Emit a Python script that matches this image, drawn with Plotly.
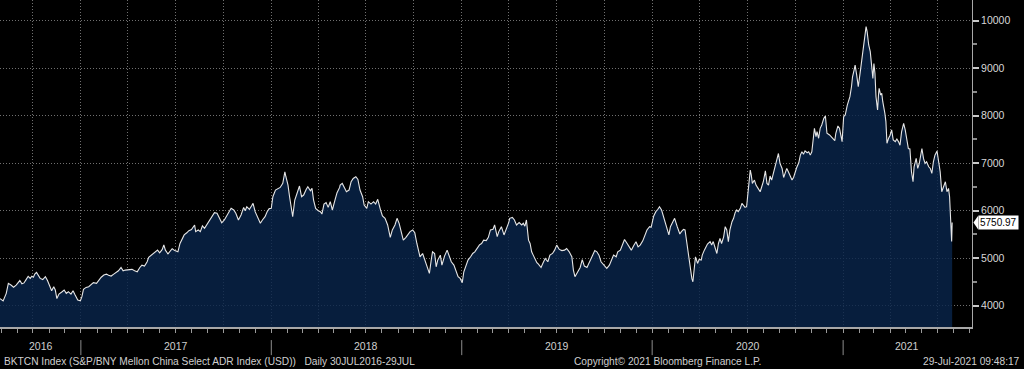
import pandas as pd
import plotly.graph_objects as go

# ---------------- data (day offsets from 30 Jul 2016, index level) ----------------
start_date = "2016-07-30"

days_p1 = [0, 6, 12, 16, 21, 26, 31, 35, 38, 42, 46, 50, 54, 58, 61, 64, 67, 70, 74, 77,
           82, 87, 91, 96, 99, 103, 106, 109, 113, 119, 123, 127, 131, 136, 140, 144, 149, 154, 157, 160,
           165, 170, 174, 179, 185, 189, 194, 199, 204, 208, 213, 218, 223, 227, 232, 236, 240, 247, 253, 258,
           263, 268, 272, 277, 282, 285, 290, 293, 298, 302, 306, 311, 314, 317, 322, 327]
vals_p1 = [4150, 4100, 4260, 4470, 4435, 4390, 4435, 4480, 4530, 4460, 4480, 4550, 4620, 4575, 4620, 4600, 4670, 4700, 4620, 4575,
           4550, 4610, 4530, 4415, 4315, 4400, 4330, 4150, 4245, 4295, 4330, 4260, 4295, 4245, 4315, 4225, 4120, 4105, 4190, 4345,
           4385, 4400, 4435, 4485, 4470, 4540, 4600, 4645, 4665, 4640, 4625, 4665, 4695, 4735, 4805, 4735, 4750, 4750, 4765, 4735,
           4715, 4805, 4855, 4835, 4925, 5020, 5065, 5100, 5135, 5170, 5115, 5185, 5280, 5170, 5090, 5160]

days_p2 = [330, 335, 341, 345, 350, 353, 358, 362, 367, 373, 375, 380, 384, 388, 392, 396, 401, 406, 411, 416,
           420, 425, 430, 435, 439, 443, 448, 452, 457, 462, 467, 470, 473, 478, 482, 485, 489, 494, 499, 503,
           508, 512, 516, 520, 523, 528, 533, 537, 542, 546, 548, 552, 555, 558, 561, 565, 569, 574, 578, 582,
           587, 590, 595, 598, 601, 605, 610, 614, 617, 621, 625, 629, 633, 637, 642, 646, 651]
vals_p2 = [5200, 5160, 5135, 5310, 5440, 5490, 5535, 5580, 5605, 5700, 5560, 5595, 5560, 5680, 5630, 5700, 5770, 5875, 5960, 5945,
           5840, 5745, 5805, 5910, 5980, 6050, 6015, 5945, 5805, 5910, 6070, 6000, 6085, 6030, 6100, 6155, 5980, 5840, 5735, 5805,
           5875, 5980, 6045, 6050, 6295, 6435, 6470, 6490, 6575, 6820, 6715, 6540, 6295, 6085, 5875, 6225, 6365, 6520, 6295, 6330,
           6450, 6505, 6420, 6470, 6225, 6050, 6000, 5980, 5930, 6140, 6170, 6070, 6190, 6015, 6225, 6380, 6490]

days_p3 = [652, 656, 660, 664, 669, 673, 677, 682, 686, 690, 695, 698, 703, 706, 711, 716, 720, 724, 729, 733,
           738, 743, 748, 752, 757, 761, 765, 769, 773, 778, 782, 786, 791, 795, 799, 802, 805, 810, 814, 818,
           823, 827, 829, 833, 836, 839, 844, 847, 852, 857, 860, 865, 870, 874, 878, 882, 886, 889, 893, 897,
           902, 906, 910, 914, 919, 923, 927, 932, 936, 940, 945, 948, 953, 956, 961, 966, 970, 975]
vals_p3 = [6540, 6575, 6470, 6400, 6435, 6610, 6680, 6715, 6660, 6435, 6295, 6120, 6050, 6190, 6140, 6190, 6140, 6240, 6030, 5890,
           5840, 5700, 5440, 5595, 5700, 5840, 5735, 5525, 5380, 5440, 5490, 5560, 5595, 5535, 5310, 5135, 5030, 5100, 4960, 4855,
           4680, 5000, 5135, 5100, 4820, 4960, 5065, 4855, 5045, 5170, 5065, 4925, 4855, 4715, 4610, 4575, 4485, 4715, 4855, 4960,
           5030, 5100, 5135, 5205, 5280, 5310, 5380, 5370, 5440, 5595, 5610, 5700, 5455, 5560, 5665, 5490, 5595, 5750]

days_p4 = [977, 982, 986, 990, 995, 1000, 1003, 1006, 1009, 1013, 1016, 1019, 1022, 1026, 1029, 1032, 1037, 1041, 1045, 1050,
           1054, 1059, 1063, 1067, 1072, 1077, 1082, 1086, 1091, 1096, 1099, 1102, 1107, 1112, 1116, 1120, 1125, 1129, 1134, 1140,
           1144, 1148, 1152, 1157, 1160, 1163, 1168, 1172, 1176, 1181, 1184, 1189, 1193, 1197, 1202, 1206, 1210, 1215, 1219, 1223,
           1227, 1232, 1236, 1240, 1245, 1248, 1253, 1257, 1261, 1264, 1268, 1270, 1274, 1279, 1282, 1285, 1289, 1293, 1298, 1302]
vals_p4 = [5840, 5860, 5805, 5700, 5750, 5700, 5735, 5675, 5805, 5380, 5310, 5135, 5065, 4960, 4905, 4875, 4805, 4905, 4995, 4925,
           5065, 5100, 5170, 5275, 5185, 5160, 5170, 5205, 5135, 5030, 4750, 4610, 4695, 4805, 4970, 4835, 4805, 4905, 5030, 5160,
           5135, 5065, 4925, 4855, 4820, 4785, 4855, 4960, 5065, 5030, 5135, 5170, 5275, 5395, 5310, 5240, 5170, 5275, 5345, 5240,
           5275, 5365, 5490, 5595, 5665, 5650, 5890, 5980, 6030, 6085, 6015, 5945, 5770, 5630, 5490, 5665, 5770, 5840, 5665, 5560]

days_p5 = [1303, 1306, 1310, 1313, 1316, 1319, 1322, 1326, 1328, 1330, 1333, 1337, 1340, 1344, 1346, 1350, 1353, 1356, 1361, 1364,
           1367, 1371, 1374, 1377, 1380, 1383, 1387, 1390, 1393, 1396, 1399, 1403, 1406, 1409, 1412, 1415, 1419, 1422, 1425, 1428,
           1431, 1435, 1438, 1440, 1442, 1446, 1449, 1453, 1457, 1460, 1463, 1467, 1470, 1473, 1476, 1479, 1483, 1486, 1489, 1492,
           1495, 1499, 1502, 1505, 1508, 1511, 1515, 1518, 1521, 1524, 1527, 1531, 1534, 1537, 1540, 1543, 1547, 1550, 1553, 1556,
           1559, 1561, 1564, 1566, 1569, 1572, 1575, 1579, 1582, 1585, 1590, 1593, 1596, 1600, 1602, 1606, 1609, 1611, 1614, 1617,
           1620, 1624, 1627]
vals_p5 = [5510, 5560, 5605, 5595, 5350, 5100, 4820, 4575, 4505, 4715, 5030, 4890, 4975, 4960, 5065, 5170, 5240, 5300, 5350, 5280,
           5350, 5205, 5100, 5310, 5415, 5310, 5450, 5665, 5595, 5350, 5595, 5770, 5840, 5960, 6015, 5980, 6050, 6155, 6120, 6070,
           6085, 6575, 6855, 6750, 6575, 6645, 6540, 6470, 6400, 6505, 6610, 6840, 6575, 6540, 6730, 6645, 6820, 6960, 7100, 7205,
           6995, 6890, 6700, 6800, 6890, 6820, 6730, 6645, 6700, 6820, 6910, 7010, 7170, 7240, 7190, 7260, 7220, 7240, 7170, 7240,
           7490, 7735, 7560, 7665, 7525, 7735, 7805, 7945, 7995, 7630, 7595, 7560, 7525, 7475, 7630, 7785, 7735, 7595, 7455, 7980,
           8015, 8225, 8330]

days_p6 = [1629, 1632, 1634, 1637, 1639, 1642, 1645, 1648, 1652, 1655, 1658, 1660, 1662, 1665, 1668, 1671, 1673, 1675, 1677, 1679,
           1682, 1684, 1685, 1688, 1690, 1692, 1694, 1696, 1698, 1700, 1703, 1706, 1709, 1712, 1716, 1719, 1722, 1725, 1728, 1732,
           1735, 1738, 1741, 1744, 1747, 1750, 1752, 1756, 1759, 1762, 1765, 1767, 1770, 1773, 1776, 1780, 1783, 1786, 1789, 1792,
           1796, 1799, 1802, 1805, 1808, 1812, 1815, 1818, 1820, 1823, 1824, 1825]
vals_p6 = [8400, 8610, 8820, 8960, 9065, 8855, 8610, 8855, 9240, 9490, 9735, 9875, 9770, 9490, 9350, 9065, 8785, 9100, 8890, 8400,
           8120, 8470, 8575, 8435, 8470, 8295, 8190, 8050, 7875, 7420, 7520, 7590, 7700, 7490, 7455, 7510, 7455, 7380, 7660, 7840,
           7700, 7490, 7310, 7300, 6820, 6610, 6925, 7100, 6890, 6995, 7170, 7310, 7100, 6995, 7030, 6925, 6890, 6785, 7030, 7170,
           7255, 7030, 6820, 6400, 6505, 6610, 6400, 6470, 6295, 5735, 5350, 5750.97]

last_value = 5750.97
y_ticks = [4000, 5000, 6000, 7000, 8000, 9000, 10000]
year_labels = ["2016", "2017", "2018", "2019", "2020", "2021"]
year_label_dates = ["2016-10-16", "2017-07-02", "2018-07-02", "2019-07-02", "2020-07-02", "2021-05-03"]
year_starts = ["2017-01-01", "2018-01-01", "2019-01-01", "2020-01-01", "2021-01-01"]

title_text = "BKTCN Index (S&amp;P/BNY Mellon China Select ADR Index (USD))\u00a0\u00a0\u00a0Daily 30JUL2016-29JUL"
copyright_text = "Copyright\u00a9 2021 Bloomberg Finance L.P."
stamp_text = "29-Jul-2021 09:48:17"

# ---------------- build ----------------
days = days_p1 + days_p2 + days_p3 + days_p4 + days_p5 + days_p6
vals = vals_p1 + vals_p2 + vals_p3 + vals_p4 + vals_p5 + vals_p6
dates = pd.Timestamp(start_date) + pd.to_timedelta(days, unit="D")

GRID = "#707070"
TXT = "#cfcfcf"
FONT = "Liberation Sans, Arial, sans-serif"

fig = go.Figure()
fig.add_trace(go.Scatter(
    x=dates, y=vals, mode="lines",
    line=dict(color="#e6e6e6", width=1.1),
    fill="tozeroy", fillcolor="rgba(9,36,74,0.82)",
    hoverinfo="skip",
))

fig.update_layout(
    width=1024, height=369,
    margin=dict(l=0, r=52, t=0, b=42),
    paper_bgcolor="black", plot_bgcolor="black",
    showlegend=False,
    font=dict(family=FONT, size=10, color=TXT),
)

fig.update_xaxes(
    type="date", range=["2016-07-30", "2021-09-05"],
    showgrid=True, gridcolor=GRID, griddash="1px,2px", gridwidth=1,
    dtick="M3", tick0="2016-01-01",
    ticks="outside", ticklen=4, tickcolor="#9a9a9a",
    showticklabels=False,
    showline=True, linecolor="#a8a8a8", linewidth=2,
    minor=dict(dtick="M1", tick0="2016-01-01", ticks="outside", ticklen=4, tickcolor="#9a9a9a", showgrid=False),
    zeroline=False, fixedrange=True,
)

fig.update_yaxes(
    side="right", range=[3552, 10436],
    tickvals=y_ticks, tickformat="d",
    showgrid=True, gridcolor=GRID, griddash="1px,2px", gridwidth=1,
    ticks="outside", ticklen=6, tickwidth=2, tickcolor="#c8c8c8",
    showline=True, linecolor="#a8a8a8", linewidth=1,
    minor=dict(dtick=500, tick0=0, ticks="outside", ticklen=4, tickcolor="#8a8a8a", showgrid=False),
    tickfont=dict(family=FONT, size=10.5, color="#d8d8d8"),
    zeroline=False, fixedrange=True,
)

annotations = []
for lab, d in zip(year_labels, year_label_dates):
    annotations.append(dict(x=d, xref="x", y=-0.058, yref="paper", text=lab, showarrow=False,
                            font=dict(family=FONT, size=10.5, color=TXT), xanchor="center", yanchor="middle"))
annotations.append(dict(x=0.002, xref="paper", y=-0.104, yref="paper", text=title_text, showarrow=False,
                        font=dict(family=FONT, size=10.2, color=TXT), xanchor="left", yanchor="middle"))
annotations.append(dict(x=0.5885, xref="paper", y=-0.104, yref="paper", text=copyright_text, showarrow=False,
                        font=dict(family=FONT, size=10.2, color=TXT), xanchor="left", yanchor="middle"))
annotations.append(dict(x=1.0514, xref="paper", y=-0.104, yref="paper", text=stamp_text, showarrow=False,
                        font=dict(family=FONT, size=10.2, color=TXT), xanchor="right", yanchor="middle"))
annotations.append(dict(x=1.006, xref="paper", y=last_value, yref="y", text=f"{last_value:.2f}", showarrow=False,
                        font=dict(family=FONT, size=10, color="black"), bgcolor="white", borderpad=1,
                        xanchor="left", yanchor="middle"))
fig.update_layout(annotations=annotations)

shapes = []
for d in year_starts:
    shapes.append(dict(type="line", xref="x", yref="paper", x0=d, x1=d, y0=-0.04, y1=-0.086,
                       line=dict(color="#8c8c8c", width=1)))
shapes.append(dict(type="path", xref="paper", yref="y",
                   path=f"M 1.0015,{last_value} L 1.0065,{last_value + 150} L 1.0065,{last_value - 150} Z",
                   fillcolor="white", line=dict(width=0)))
fig.update_layout(shapes=shapes)

fig.write_html("out.html", include_plotlyjs=True, config={"displayModeBar": False},
               post_script="document.body.style.margin='0';document.body.style.overflow='hidden';")
